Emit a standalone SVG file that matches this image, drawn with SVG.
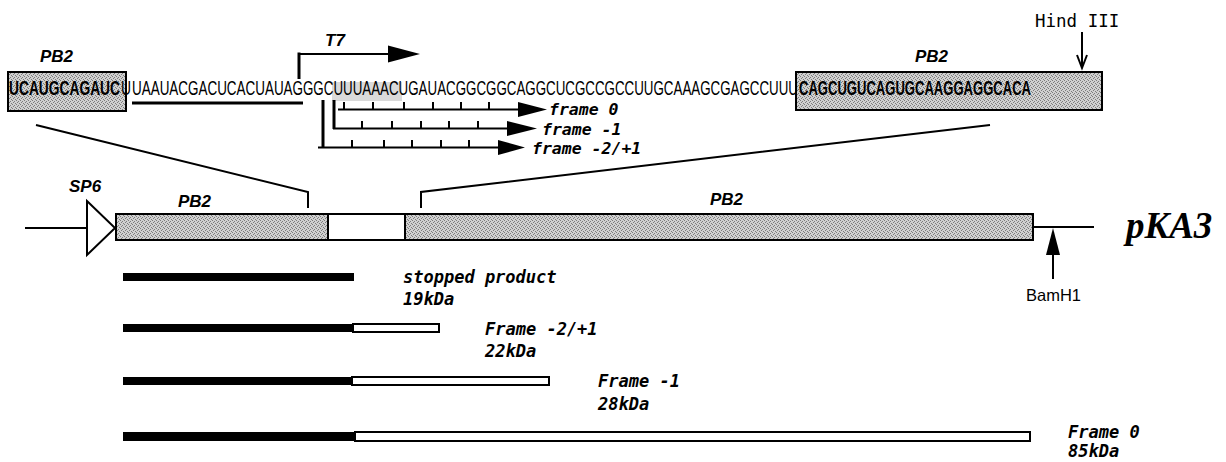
<svg xmlns="http://www.w3.org/2000/svg" width="1226" height="462" viewBox="0 0 1226 462">
<defs>
<pattern id="stip" width="4" height="4" patternUnits="userSpaceOnUse">
<rect width="4" height="4" fill="#d0d0d0"/>
<rect x="0" y="0" width="1" height="1" fill="#7c7c7c"/>
<rect x="2" y="1" width="1" height="1" fill="#7c7c7c"/>
<rect x="1" y="2" width="1" height="1" fill="#7c7c7c"/>
<rect x="3" y="3" width="1" height="1" fill="#7c7c7c"/>
</pattern>
</defs>
<style>
.seq{font-family:"Liberation Sans Narrow","Liberation Sans",Arial,sans-serif;font-size:19.5px;fill:#000}
.b{font-weight:bold}
.lab{font-family:"Liberation Sans",Arial,sans-serif;font-style:italic;font-weight:bold;font-size:17px;fill:#000}
.mono{font-family:"DejaVu Sans Mono","Liberation Mono",monospace;font-style:italic;font-weight:bold;font-size:16.5px;fill:#000}
.mono17{font-family:"DejaVu Sans Mono","Liberation Mono",monospace;font-style:italic;font-weight:bold;font-size:17px;fill:#000}
.ln{stroke:#000;stroke-width:2;fill:none}
.thick{stroke:#000;stroke-width:3;fill:none}
.gray{fill:url(#stip);stroke:#000;stroke-width:2}
.white{fill:#fff;stroke:#000;stroke-width:2}
.blk{fill:#000}
</style>

<!-- Top sequence -->
<g id="seq-left-box">
<rect class="gray" x="8" y="72" width="118" height="39"/>
<text class="lab" x="40" y="62">PB2</text>
</g>
<g id="seq-right-box">
<rect class="gray" x="796" y="72" width="306" height="38"/>
<text class="lab" x="915" y="62">PB2</text>
</g>
<g id="highlight">
<rect x="332" y="82" width="70" height="19" fill="#dadada"/>
</g>
<g id="sequence">
<text class="seq" y="95"><tspan class="b" x="9" textLength="111" lengthAdjust="spacingAndGlyphs">UCAUGCAGAUC</tspan><tspan x="121" textLength="10" lengthAdjust="spacingAndGlyphs">U</tspan><tspan x="132" textLength="171" lengthAdjust="spacingAndGlyphs">UAAUACGACUCACUAUAG</tspan><tspan x="303" textLength="495" lengthAdjust="spacingAndGlyphs">GGCUUUAAACUGAUACGGCGGCAGGCUCGCCGCCUUGCAAAGCGAGCCUUU</tspan><tspan class="b" x="799" textLength="232" lengthAdjust="spacingAndGlyphs">CAGCUGUCAGUGCAAGGAGGCACA</tspan></text>
<line x1="132" y1="103" x2="303" y2="103" stroke="#000" stroke-width="3"/>
</g>

<g id="t7">
<text class="lab" x="325" y="46">T7</text>
</g>
<g id="hind3">
<text x="1035" y="27" font-family="DejaVu Sans Mono, Liberation Mono, monospace" font-size="17.5">Hind III</text>
</g>

<g id="frame-labels">
<text class="mono" x="549" y="115">frame 0</text>
<text class="mono" x="542" y="135">frame -1</text>
<text class="mono" x="532" y="154">frame -2/+1</text>
</g>

<!-- Construct -->
<g id="sp6">
<polygon points="87,201 115,228 87,255" fill="#fff" stroke="#000" stroke-width="2"/>
<text class="lab" x="69" y="192">SP6</text>
</g>
<g id="pb2-left">
<rect class="gray" x="116" y="214" width="212" height="26"/>
<text class="lab" x="178" y="207">PB2</text>
</g>
<g id="insert">
<rect class="white" x="328" y="214" width="77" height="26"/>
</g>
<g id="pb2-right">
<rect class="gray" x="405" y="214" width="628" height="26"/>
<text class="lab" x="710" y="205">PB2</text>
</g>
<g id="pka3">
<text x="1126" y="238" font-family="Liberation Serif, Times New Roman, serif" font-style="italic" font-weight="bold" font-size="37">pKA3</text>
</g>
<g id="bamh1">
<text x="1026" y="301" font-family="Liberation Sans, Arial, sans-serif" font-size="16.5">BamH1</text>
</g>

<!-- Products -->
<g id="stopped">
<rect class="blk" x="123" y="273" width="231" height="8"/>
<text class="mono17" x="403" y="283">stopped product</text>
<text class="mono17" x="403" y="305">19kDa</text>
</g>
<g id="frame-m2">
<rect class="blk" x="123" y="324" width="230" height="8"/>
<rect class="white" x="353" y="324" width="86" height="8" stroke-width="1.8"/>
<text class="mono17" x="485" y="335">Frame -2/+1</text>
<text class="mono17" x="485" y="357">22kDa</text>
</g>
<g id="frame-m1">
<rect class="blk" x="123" y="377" width="229" height="8"/>
<rect class="white" x="352" y="377" width="197" height="8" stroke-width="1.8"/>
<text class="mono17" x="598" y="387">Frame -1</text>
<text class="mono17" x="598" y="410">28kDa</text>
</g>
<g id="frame-0">
<rect class="blk" x="123" y="432" width="232" height="9"/>
<rect class="white" x="355" y="432" width="675" height="9" stroke-width="1.8"/>
<text class="mono17" x="1068" y="438">Frame 0</text>
<text class="mono17" x="1068" y="457">85kDa</text>
</g>

<!-- Connectors -->
<g id="connectors">
<line x1="299" y1="79" x2="299" y2="52.5" class="thick"/>
<line x1="298" y1="54" x2="390" y2="54" class="ln"/>
<polygon points="388,45.5 420,54 388,62.5" class="blk"/>
<line x1="1082" y1="32" x2="1082" y2="66" class="ln"/>
<path d="M1077,55 L1082,68 L1087,55" class="ln"/>
<line x1="338" y1="109.5" x2="520" y2="109.5" class="ln"/>
<polygon points="518,102 547,109.5 518,117" class="blk"/>
<path d="M344,109 V102 M373,109 V102 M404,109 V102 M433,109 V102 M461,109 V102 M489,109 V102" class="ln"/>
<line x1="334" y1="100" x2="334" y2="129" class="thick"/>
<line x1="333" y1="128.5" x2="510" y2="128.5" class="ln"/>
<polygon points="507,121 537,128.5 507,136" class="blk"/>
<path d="M362,128 V121 M392,128 V121 M421,128 V121 M449,128 V121 M478,128 V121" class="ln"/>
<line x1="323" y1="100" x2="323" y2="148" class="thick"/>
<line x1="318" y1="147.5" x2="500" y2="147.5" class="ln"/>
<polygon points="498,140 525,147.5 498,155" class="blk"/>
<path d="M352,147 V140 M384,147 V140 M412,147 V140 M441,147 V140 M469,147 V140" class="ln"/>
<polyline points="36,125 308,192 308,208" class="ln"/>
<polyline points="990,125 421,192 421,208" class="ln"/>
<line x1="25" y1="228" x2="87" y2="228" class="ln"/>
<line x1="1033" y1="227" x2="1094" y2="227" class="ln"/>
<line x1="1053" y1="279" x2="1053" y2="250" class="ln"/>
<polygon points="1046,255 1053,228 1060,255" class="blk"/>
</g>
</svg>
